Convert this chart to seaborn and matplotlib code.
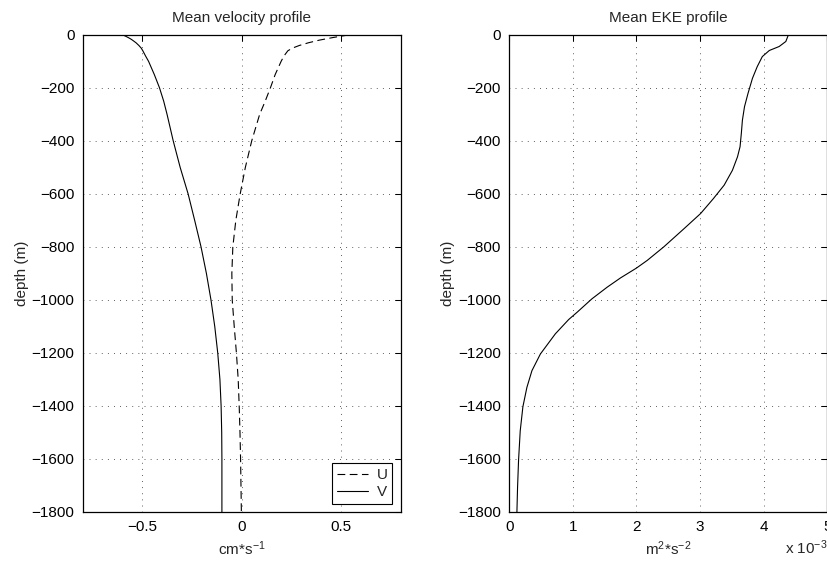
import seaborn as sns
import pandas as pd
import matplotlib.pyplot as plt

# depth levels (m) shared by U and V
depth_uv = [0, -5, -10, -15, -20, -30, -40, -50, -60, -80, -100, -150, -200, -250, -300,
            -400, -500, -600, -700, -800, -900, -1000, -1100, -1200, -1300, -1400,
            -1500, -1600, -1700, -1800]
u_mean = [0.54, 0.50, 0.46, 0.425, 0.39, 0.335, 0.29, 0.255, 0.232, 0.212, 0.198, 0.168,
          0.144, 0.118, 0.09, 0.05, 0.018, -0.008, -0.03, -0.045, -0.05, -0.048, -0.038,
          -0.027, -0.018, -0.013, -0.009, -0.006, -0.004, -0.002]
v_mean = [-0.60, -0.585, -0.572, -0.56, -0.55, -0.532, -0.518, -0.506, -0.498, -0.484,
          -0.469, -0.440, -0.414, -0.393, -0.376, -0.345, -0.31, -0.27, -0.237, -0.205,
          -0.178, -0.155, -0.136, -0.121, -0.11, -0.104, -0.101, -0.10, -0.10, -0.10]

# EKE profile, units of 1e-3 m^2 s^-2
depth_eke = [0, -25, -44, -59, -82, -120, -164, -221, -271, -322, -372, -422, -460, -511,
             -567, -618, -674, -731, -800, -851, -880, -917, -952, -996, -1046, -1074,
             -1128, -1204, -1267, -1330, -1403, -1494, -1604, -1708, -1800]
eke_mean = [4.39, 4.35, 4.245, 4.09, 3.98, 3.90, 3.825, 3.755, 3.70, 3.667, 3.65, 3.63,
            3.59, 3.51, 3.38, 3.21, 3.01, 2.75, 2.43, 2.17, 2.0, 1.75, 1.54, 1.30, 1.07,
            0.935, 0.725, 0.49, 0.357, 0.278, 0.215, 0.173, 0.147, 0.131, 0.121]

xticks_vel = [-0.5, 0, 0.5]
xticks_eke = [0, 1, 2, 3, 4, 5]
yticks = list(range(0, -1801, -200))

sns.set_style('white')
plt.rcParams['font.family'] = ['Liberation Sans', 'DejaVu Sans']
plt.rcParams['mathtext.fontset'] = 'custom'
plt.rcParams['mathtext.rm'] = 'Liberation Sans'
plt.rcParams['mathtext.it'] = 'Liberation Sans:italic'
plt.rcParams['mathtext.default'] = 'regular'
plt.rcParams['font.size'] = 11

fig = plt.figure(figsize=(8.28, 5.62), dpi=100)
ax1 = fig.add_axes([0.100, 0.089, 0.384, 0.849])
ax2 = fig.add_axes([0.615, 0.089, 0.384, 0.849])

uv_df = pd.DataFrame({'depth': depth_uv, 'U': u_mean, 'V': v_mean})
eke_df = pd.DataFrame({'depth': depth_eke, 'EKE': eke_mean})

sns.lineplot(data=uv_df, x='U', y='depth', ax=ax1, sort=False, estimator=None,
             color='k', lw=0.8, linestyle=(0, (7, 4)), label='U')
sns.lineplot(data=uv_df, x='V', y='depth', ax=ax1, sort=False, estimator=None,
             color='k', lw=0.8, label='V')
sns.lineplot(data=eke_df, x='EKE', y='depth', ax=ax2, sort=False, estimator=None,
             color='k', lw=0.8)

def style_axes(ax, xticks, xlim, title, xlabel):
    ax.set_xlim(*xlim)
    ax.set_ylim(-1800, 0)
    ax.set_xticks(xticks)
    ax.set_yticks(yticks)
    ax.set_title(title, fontsize=11, pad=9)
    ax.set_xlabel(xlabel, fontsize=11, labelpad=4)
    ax.set_ylabel('depth (m)', fontsize=11, labelpad=2)
    ax.grid(True, color='k', linestyle=(0, (1, 7)), linewidth=0.55)
    ax.tick_params(direction='in', length=4, width=0.75, top=True, right=True,
                   labelsize=11, pad=6, colors='k')
    for s in ax.spines.values():
        s.set_visible(True)
        s.set_color('k')
        s.set_linewidth(0.9)

style_axes(ax1, xticks_vel, (-0.8, 0.8), 'Mean velocity profile', r'cm*s$^{-1}$')
style_axes(ax2, xticks_eke, (0, 5), 'Mean EKE profile', r'm$^{2}$*s$^{-2}$')
ax1.set_xticklabels(['\u22120.5', '0', '0.5'])

# exponent note under the right axis, as in the original
ax2.text(1.0, -0.055, r'x 10$^{-3}$', transform=ax2.transAxes, ha='right', va='top',
         fontsize=11)

leg = ax1.legend(loc='lower right', fontsize=11, handlelength=2.0, labelspacing=0.2,
                 borderaxespad=0.55, fancybox=False, framealpha=1, borderpad=0.3,
                 handletextpad=0.6)
leg.get_frame().set_edgecolor('k')
leg.get_frame().set_linewidth(0.8)

fig.savefig('out.png', dpi=100)
